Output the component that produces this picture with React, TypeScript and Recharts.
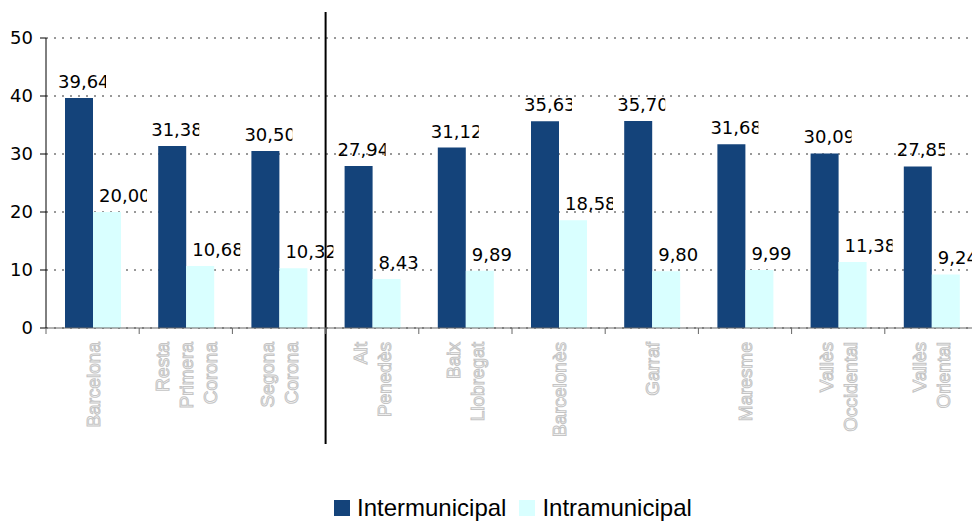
import { BarChart, Bar, XAxis, YAxis, CartesianGrid, LabelList, ReferenceLine } from "recharts";

const categories = [
  "Barcelona",
  "Resta Primera Corona",
  "Segona Corona",
  "Alt Penedès",
  "Baix Llobregat",
  "Barcelonès",
  "Garraf",
  "Maresme",
  "Vallès Occidental",
  "Vallès Oriental",
];
const intermunicipal = [39.64, 31.38, 30.5, 27.94, 31.12, 35.63, 35.7, 31.68, 30.09, 27.85];
const intramunicipal = [20.0, 10.68, 10.32, 8.43, 9.89, 18.58, 9.8, 9.99, 11.38, 9.24];
const seriesNames = ["Intermunicipal", "Intramunicipal"];
const seriesColors = ["#14437a", "#d9ffff"];
const yTicks = [0, 10, 20, 30, 40, 50];

const CHART_W = 980;
const CHART_H = 522;
const MARGIN = { top: 38, right: 2, bottom: 74, left: 0 };
const Y_AXIS_W = 46;
const BAND = (CHART_W - MARGIN.left - MARGIN.right - Y_AXIS_W) / categories.length;

const data = categories.map((name, i) => ({
  name,
  inter: intermunicipal[i],
  intra: intramunicipal[i],
}));

const fmt = (v: number) => v.toFixed(2).replace(".", ",");

// value label, clipped to a fixed box like the exported labels
function ValueLabel(props: any) {
  const { x, y, value, dx } = props;
  const left = Number(x) + dx;
  return (
    <svg x={left} y={Number(y) - 30} width={48} height={34} overflow="hidden">
      <text x={0} y={20} fontSize={18} fontFamily="DejaVu Sans" fill="#000">
        {fmt(Number(value))}
      </text>
    </svg>
  );
}

// category tick: boundary tick mark plus rotated, outlined multi-line label
function CategoryTick(props: any) {
  const { x, y, payload } = props;
  const half = payload && payload.offset ? payload.offset : BAND / 2;
  const lines = String(payload.value).split(" ");
  const left = x - half;
  return (
    <g>
      <line x1={left} y1={y} x2={left} y2={y + 6} stroke="#666" />
      <text
        transform={`translate(${x},${y + 14}) rotate(-90)`}
        textAnchor="end"
        fontSize={19}
        fontFamily="Liberation Sans, Arial, sans-serif"
        fill="#fff"
        stroke="#c4c4c4"
        strokeWidth={1}
      >
        {lines.map((l, i) => (
          <tspan key={i} x={0} y={(i - (lines.length - 1) / 2) * 24 + 7}>
            {l}
          </tspan>
        ))}
      </text>
    </g>
  );
}

export default function App() {
  return (
    <div
      style={{
        position: "fixed",
        left: 0,
        top: 0,
        width: 972,
        height: 522,
        overflow: "hidden",
        background: "#fff",
      }}
    >
      <BarChart width={CHART_W} height={CHART_H} data={data} margin={MARGIN} barSize={28} barGap={0}>
        <CartesianGrid vertical={false} stroke="#333" strokeDasharray="2 6" />
        <XAxis
          dataKey="name"
          interval={0}
          height={120}
          axisLine={{ stroke: "#666" }}
          tickLine={false}
          tickSize={0}
          tickMargin={0}
          tick={<CategoryTick />}
        />
        <YAxis
          width={Y_AXIS_W}
          domain={[0, 50]}
          ticks={yTicks}
          interval={0}
          tickSize={6}
          tickMargin={7}
          axisLine={{ stroke: "#000" }}
          tickLine={{ stroke: "#000" }}
          tick={{ fontSize: 18, fill: "#000", fontFamily: "DejaVu Sans" }}
        />
        <Bar dataKey="inter" name={seriesNames[0]} fill={seriesColors[0]} isAnimationActive={false}>
          <LabelList dataKey="inter" content={(p: any) => <ValueLabel {...p} dx={-7} />} />
        </Bar>
        <Bar dataKey="intra" name={seriesNames[1]} fill={seriesColors[1]} isAnimationActive={false}>
          <LabelList dataKey="intra" content={(p: any) => <ValueLabel {...p} dx={6} />} />
        </Bar>
        {/* divider between the Barcelona rings and the comarques */}
        <ReferenceLine
          segment={[
            { x: categories[2], y: 54.5 },
            { x: categories[2], y: -20 },
          ]}
          position="end"
          ifOverflow="visible"
          stroke="#000"
          strokeWidth={2}
        />
      </BarChart>
      <div
        style={{
          position: "absolute",
          left: 334,
          top: 496,
          display: "flex",
          alignItems: "center",
          height: 24,
          fontFamily: "Liberation Sans, Arial, sans-serif",
          fontSize: 24,
          lineHeight: "24px",
          color: "#000",
        }}
      >
        {seriesNames.map((n, i) => (
          <div key={n} style={{ display: "flex", alignItems: "center", marginRight: 13 }}>
            <span style={{ width: 16, height: 16, background: seriesColors[i], marginRight: 7 }} />
            <span>{n}</span>
          </div>
        ))}
      </div>
    </div>
  );
}
